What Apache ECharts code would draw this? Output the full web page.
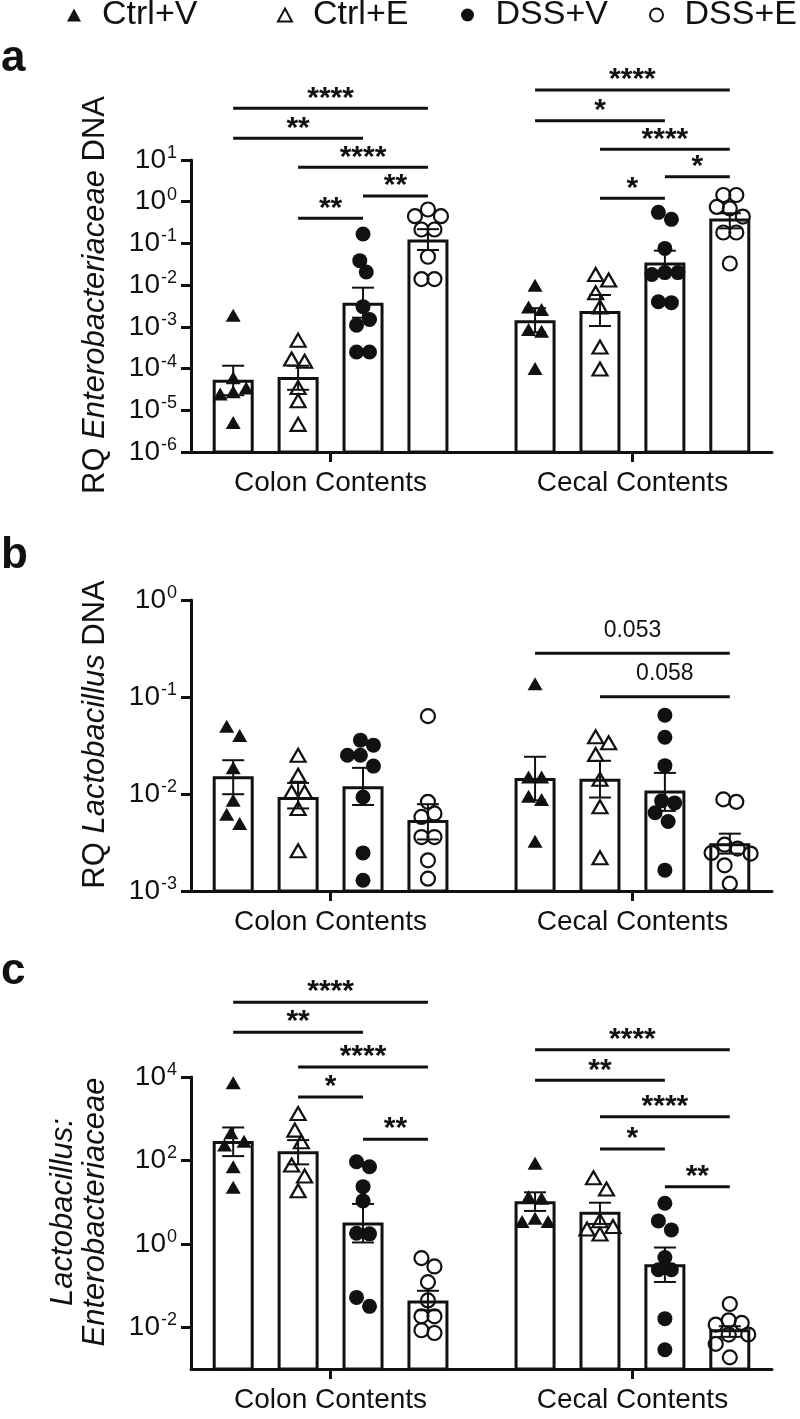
<!DOCTYPE html>
<html><head><meta charset="utf-8">
<script src="https://cdn.jsdelivr.net/npm/echarts@6/dist/echarts.min.js"></script>
<style>html,body{margin:0;padding:0;background:#fff}#chart{width:800px;height:1419px}</style>
</head><body><div id="chart"></div>
<script>
// ---------------- DATA ----------------
const categories = ['Colon Contents', 'Cecal Contents'];
const groups = ['Ctrl+V', 'Ctrl+E', 'DSS+V', 'DSS+E'];

// Panel a: RQ Enterobacteriaceae DNA (bars 0-3 colon, 4-7 cecal)
const aPoints = [
  [1.9e-3, 6.0e-5, 3.4e-5, 2.8e-5, 2.45e-5, 5.1e-6],
  [4.8e-4, 1.7e-4, 1.5e-4, 3.5e-5, 1.7e-5, 4.6e-6],
  [0.168, 0.0386, 0.0207, 3.05e-3, 1.5e-3, 1.1e-3, 2.5e-4, 2.5e-4],
  [0.65, 0.45, 0.45, 0.216, 0.216, 0.048, 0.014, 0.014],
  [1.0e-2, 3.0e-3, 2.6e-3, 8.6e-4, 7.9e-4, 1.0e-4],
  [0.018, 0.0133, 6.6e-3, 3.0e-3, 3.3e-4, 9.8e-5],
  [0.556, 0.378, 0.076, 0.02, 0.02, 0.018, 4.0e-3, 3.8e-3],
  [1.45, 1.45, 0.75, 0.69, 0.44, 0.183, 0.183, 0.033]
];
const aMeans   = [5.0e-5, 5.8e-5, 3.5e-3, 0.114, 1.33e-3, 2.2e-3, 0.032, 0.364];
const aErrHigh = [1.17e-4, 1.17e-4, 8.7e-3, 0.22, 2.8e-3, 5.8e-3, 0.067, 0.53];
const aErrLow  = [2.3e-5, 3.1e-5, 1.66e-3, 0.0695, 7.4e-4, 1.05e-3, 0.018, 0.23];
const aTickExp = [-6, -5, -4, -3, -2, -1, 0, 1];
const aBrackets = [
  [0, 3, 174, '****'], [0, 2, 33, '**'], [1, 3, 6.7, '****'], [2, 3, 1.37, '**'], [1, 2, 0.40, '**'],
  [4, 7, 476, '****'], [4, 6, 87.5, '*'], [5, 7, 18.1, '****'], [6, 7, 3.98, '*'], [5, 6, 1.21, '*']
];

// Panel b: RQ Lactobacillus DNA
const bPoints = [
  [0.050, 0.040, 0.0186, 8.6e-3, 6.2e-3, 4.96e-3],
  [0.0251, 0.0156, 0.0105, 0.0105, 7.1e-3, 2.6e-3],
  [0.0359, 0.0319, 0.0251, 0.0251, 0.0194, 9.3e-3, 2.47e-3, 1.29e-3],
  [0.0635, 8.3e-3, 6.3e-3, 5.8e-3, 3.6e-3, 3.6e-3, 2.07e-3, 1.34e-3],
  [0.137, 0.015, 0.015, 9.5e-3, 8.8e-3, 3.25e-3],
  [0.0389, 0.0337, 0.0255, 0.0142, 7.4e-3, 2.2e-3],
  [0.065, 0.0385, 0.0196, 8.5e-3, 8.1e-3, 6.4e-3, 5.2e-3, 1.64e-3],
  [8.8e-3, 8.3e-3, 3.0e-3, 2.74e-3, 2.47e-3, 2.43e-3, 1.84e-3, 1.19e-3]
];
const bMeans   = [0.0147, 8.98e-3, 0.0116, 5.2e-3, 0.0141, 0.0139, 0.0105, 3.0e-3];
const bErrHigh = [0.0223, 0.013, 0.0186, 7.85e-3, 0.0242, 0.022, 0.0165, 3.9e-3];
const bErrLow  = [9.95e-3, 7.1e-3, 7.7e-3, 3.4e-3, 8.6e-3, 9.2e-3, 6.7e-3, 2.43e-3];
const bTickExp = [-3, -2, -1, 0];
const bBrackets = [[4, 7, 0.282, '0.053'], [5, 7, 0.1005, '0.058']];

// Panel c: Lactobacillus : Enterobacteriaceae ratio
const cPoints = [
  [7260, 463, 290, 233, 70.5, 22.7],
  [1330, 532, 279, 77.5, 42.3, 18.8],
  [93, 70.5, 23.5, 10.7, 1.80, 1.74, 0.052, 0.0318],
  [0.455, 0.287, 0.121, 0.044, 0.0183, 0.0183, 8.5e-3, 7.3e-3],
  [85, 13.5, 12.4, 4.12, 3.42, 3.42],
  [38.5, 20.7, 3.6, 2.6, 2.28, 1.73],
  [9.4, 3.55, 2.16, 0.471, 0.239, 0.239, 0.0161, 2.9e-3],
  [0.0362, 0.0147, 0.0127, 0.0116, 6.7e-3, 6.7e-3, 4.0e-3, 1.9e-3]
];
const cMeans   = [270, 152, 3.0, 0.0403, 9.7, 5.4, 0.298, 8.3e-3];
const cErrHigh = [617, 307, 9.06, 0.075, 17.2, 9.7, 0.817, 0.0106];
const cErrLow  = [127, 80.5, 1.08, 0.0255, 6.15, 3.0, 0.122, 5.9e-3];
const cTickExp = [-2, 0, 2, 4];
const cBrackets = [
  [0, 3, 6.2e5, '****'], [0, 2, 1.19e5, '**'], [1, 3, 1.73e4, '****'], [1, 2, 3325, '*'], [2, 3, 324, '**'],
  [4, 7, 4.52e4, '****'], [4, 6, 8330, '**'], [5, 7, 1107, '****'], [5, 6, 187, '*'], [6, 7, 23.4, '**']
];

// ---------------- LAYOUT / STYLE ----------------
const FONT = 'Liberation Sans, Arial, Helvetica, sans-serif';
const INK = '#111';
const LEFT = 191, RIGHT = 28;
const XMIN = -0.65, XMAX = 8.3, GROUP_GAP = 0.65;
const plotW = 800 - LEFT - RIGHT;
const pxPerUnit = plotW / (XMAX - XMIN);
const barPos = i => (i < 4 ? i : i + GROUP_GAP);
const catPos = [1.5, 6.15];
const legendLeft = [67, 277, 461, 649];

const panels = [
  { letter: 'a', top: 160, height: 292, ymin: -6, ymax: 1, ticks: aTickExp, pts: aPoints, means: aMeans, hi: aErrHigh, lo: aErrLow, br: aBrackets, brFont: 'bold 30px ' + FONT, brOff: 10,
    name: '{r|RQ }{i|Enterobacteriaceae}{r| DNA}', letterY: 79 },
  { letter: 'b', top: 600, height: 291, ymin: -3, ymax: 0, ticks: bTickExp, pts: bPoints, means: bMeans, hi: bErrHigh, lo: bErrLow, br: bBrackets, brFont: '23px ' + FONT, brOff: 23,
    name: '{r|RQ }{i|Lactobacillus}{r| DNA}', letterY: 576 },
  { letter: 'c', top: 1077, height: 292, ymin: -3, ymax: 4, ticks: cTickExp, pts: cPoints, means: cMeans, hi: cErrHigh, lo: cErrLow, br: cBrackets, brFont: 'bold 30px ' + FONT, brOff: 10,
    name: '{i|Lactobacillus:}\n{i|Enterobacteriaceae}', letterY: 992 }
];

const markers = [
  { symbol: 'triangle', size: [15, 13], filled: true },
  { symbol: 'triangle', size: [15, 13], filled: false },
  { symbol: 'circle', size: 15, filled: true },
  { symbol: 'circle', size: 14, filled: false }
];

// simple beeswarm: spreads points that would overlap, then recentres each cluster
function swarm(vals, pxPerDec, D, step) {
  const ys = vals.map(v => -Math.log10(v) * pxPerDec);
  const order = ys.map((y, i) => i).sort((a, b) => ys[a] - ys[b]);
  const xs = new Array(vals.length).fill(0);
  const placed = [];
  for (const i of order) {
    const y = ys[i];
    const near = placed.filter(p => Math.abs(p.y - y) < D);
    const s = near.reduce((a, p) => a + p.x, 0);
    let best = null;
    for (let k = 0; k < 30 && best === null; k++) {
      const cands = k === 0 ? [0] : (s > 0 ? [-k * step, k * step] : [k * step, -k * step]);
      for (const c of cands) {
        if (near.every(p => (p.x - c) ** 2 + (p.y - y) ** 2 >= D * D)) { best = c; break; }
      }
    }
    xs[i] = best; placed.push({ x: best, y, i });
  }
  const sorted = placed.slice().sort((a, b) => a.y - b.y);
  let cluster = [sorted[0]];
  const flush = () => {
    const m = cluster.reduce((a, p) => a + p.x, 0) / cluster.length;
    cluster.forEach(p => { xs[p.i] = p.x - m; });
  };
  for (let j = 1; j < sorted.length; j++) {
    if (sorted[j].y - sorted[j - 1].y < D) cluster.push(sorted[j]);
    else { flush(); cluster = [sorted[j]]; }
  }
  flush();
  return xs;
}

const grids = [], xAxes = [], yAxes = [], series = [], graphics = [];

panels.forEach((P, k) => {
  grids.push({ left: LEFT, right: RIGHT, top: P.top, height: P.height, containLabel: false });
  xAxes.push({
    type: 'value', gridIndex: k, min: XMIN, max: XMAX,
    axisLine: { show: true, onZero: false, lineStyle: { color: INK, width: 3 } },
    axisTick: { show: true, customValues: catPos, length: 10, lineStyle: { color: INK, width: 3 } },
    axisLabel: { show: true, customValues: catPos, margin: 17, fontSize: 28, fontFamily: FONT, color: INK,
      formatter: v => categories[v < 4 ? 0 : 1] },
    splitLine: { show: false }
  });
  yAxes.push({
    type: 'value', gridIndex: k, min: P.ymin, max: P.ymax,
    axisLine: { show: true, onZero: false, lineStyle: { color: INK, width: 3 } },
    axisTick: { show: true, customValues: P.ticks, length: 10, lineStyle: { color: INK, width: 3 } },
    axisLabel: { show: true, customValues: P.ticks, margin: 14, color: INK,
      formatter: v => '{b|10}{s|' + Math.round(v) + '}',
      rich: {
        b: { fontSize: 28, fontFamily: FONT, color: INK, lineHeight: 32 },
        s: { fontSize: 18, fontFamily: FONT, color: INK, lineHeight: 18, verticalAlign: 'top', padding: [0, 0, 0, 1] }
      } },
    splitLine: { show: false },
    name: P.name, nameLocation: 'middle', nameRotate: 90, nameGap: 80,
    nameTextStyle: {
      color: INK, padding: [0, 0, 0, 22], lineHeight: 32,
      rich: {
        r: { fontSize: 31, fontFamily: FONT, color: INK, lineHeight: 32 },
        i: { fontSize: 31, fontFamily: FONT, color: INK, fontStyle: 'italic', lineHeight: 32 }
      }
    }
  });

  const ymin = P.ymin;
  series.push({
    type: 'custom', name: 'bars-' + P.letter, xAxisIndex: k, yAxisIndex: k, silent: true, z: 2,
    data: P.means.map((m, i) => [barPos(i), Math.log10(m)]),
    renderItem: (params, api) => {
      const top = api.coord([api.value(0), api.value(1)]);
      const base = api.coord([api.value(0), ymin]);
      return { type: 'rect', shape: { x: top[0] - 19, y: top[1], width: 38, height: base[1] - top[1] },
        style: { fill: '#fff', stroke: INK, lineWidth: 3 } };
    }
  });
  series.push({
    type: 'custom', name: 'err-' + P.letter, xAxisIndex: k, yAxisIndex: k, silent: true, z: 3,
    data: P.means.map((m, i) => [barPos(i), Math.log10(P.lo[i]), Math.log10(P.hi[i])]),
    encode: { x: 0, y: [1, 2] },
    renderItem: (params, api) => {
      const lo = api.coord([api.value(0), api.value(1)]);
      const hi = api.coord([api.value(0), api.value(2)]);
      const cw = 11, st = { stroke: INK, lineWidth: 2 };
      return { type: 'group', children: [
        { type: 'line', shape: { x1: lo[0], y1: lo[1], x2: hi[0], y2: hi[1] }, style: st },
        { type: 'line', shape: { x1: hi[0] - cw, y1: hi[1], x2: hi[0] + cw, y2: hi[1] }, style: st },
        { type: 'line', shape: { x1: lo[0] - cw, y1: lo[1], x2: lo[0] + cw, y2: lo[1] }, style: st }
      ] };
    }
  });
  const pxPerDec = P.height / (P.ymax - P.ymin);
  const offs = P.pts.map(vals => swarm(vals, pxPerDec, 13, 6.5));
  groups.forEach((g, gi) => {
    const mk = markers[gi];
    const data = [];
    [gi, gi + 4].forEach(i => {
      P.pts[i].forEach((v, j) => data.push([barPos(i) + offs[i][j] / pxPerUnit, Math.log10(v)]));
    });
    series.push({
      type: 'scatter', name: g, xAxisIndex: k, yAxisIndex: k, silent: true, z: 4,
      symbol: mk.symbol, symbolSize: mk.size, data,
      itemStyle: mk.filled ? { color: INK, opacity: 1 } : { color: 'rgba(255,255,255,0)', borderColor: INK, borderWidth: 2.2, opacity: 1 }
    });
  });
  const br = P.br, brFont = P.brFont, brOff = P.brOff;
  series.push({
    type: 'custom', name: 'sig-' + P.letter, xAxisIndex: k, yAxisIndex: k, silent: true, z: 5, clip: false,
    data: br.map(b => [barPos(b[0]), barPos(b[1]), Math.log10(b[2])]),
    encode: { x: [0, 1], y: 2 },
    renderItem: (params, api) => {
      const p1 = api.coord([api.value(0), api.value(2)]);
      const p2 = api.coord([api.value(1), api.value(2)]);
      return { type: 'group', children: [
        { type: 'line', shape: { x1: p1[0], y1: p1[1], x2: p2[0], y2: p2[1] }, style: { stroke: INK, lineWidth: 3 } },
        { type: 'text', x: (p1[0] + p2[0]) / 2, y: p1[1] - brOff,
          style: { text: br[params.dataIndex][3], font: brFont, fill: INK, align: 'center', verticalAlign: 'middle' } }
      ] };
    }
  });
  graphics.push({ type: 'text', left: 1, top: P.letterY - 42, style: { text: P.letter, font: 'bold 44px ' + FONT, fill: INK } });
});

const legends = groups.map((g, i) => ({
  data: [g], top: -2, left: legendLeft[i], padding: 0, itemWidth: 14, itemHeight: 13, selectedMode: false,
  textStyle: { fontSize: 34, fontFamily: FONT, color: INK, padding: [0, 0, 0, 16] }
}));

const chart = echarts.init(document.getElementById('chart'), null, { renderer: 'canvas' });
chart.setOption({
  animation: false,
  backgroundColor: '#fff',
  legend: legends,
  grid: grids, xAxis: xAxes, yAxis: yAxes, series, graphic: graphics
});
</script></body></html>
